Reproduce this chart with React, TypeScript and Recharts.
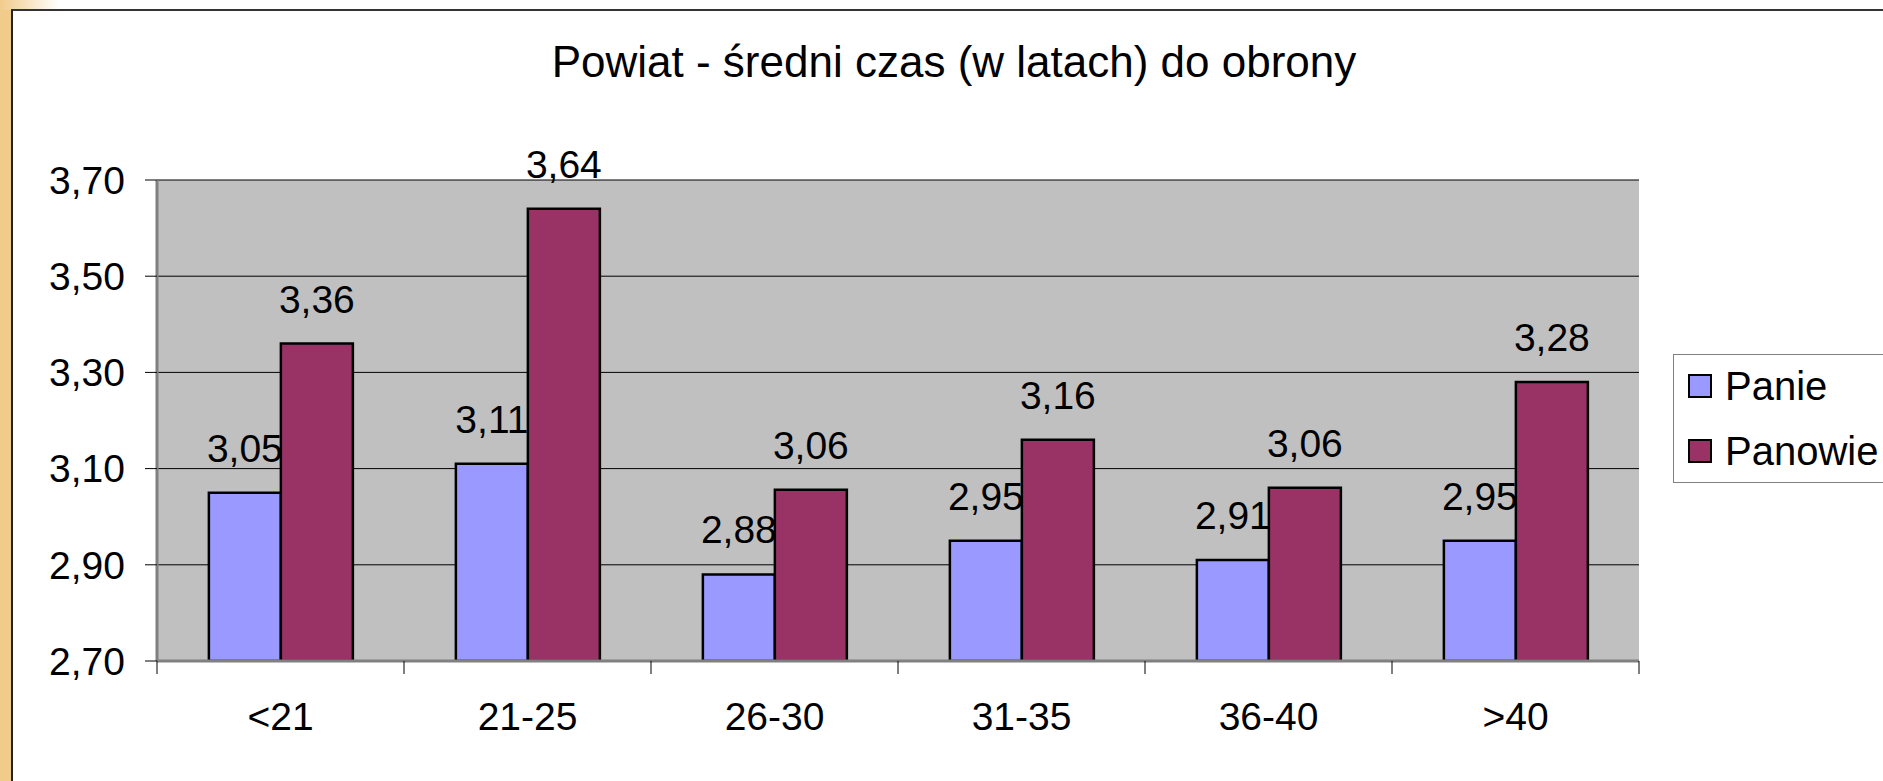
import React from "react";
import {
  BarChart,
  Bar,
  XAxis,
  YAxis,
  CartesianGrid,
  LabelList,
  Legend,
} from "recharts";

const title = "Powiat - średni czas (w latach) do obrony";
const categories = ["<21", "21-25", "26-30", "31-35", "36-40", ">40"];
const panie = [3.05, 3.11, 2.88, 2.95, 2.91, 2.95];
const panowie = [3.36, 3.64, 3.056, 3.16, 3.06, 3.28];
const yTicks = [2.7, 2.9, 3.1, 3.3, 3.5, 3.7];
const seriesNames = ["Panie", "Panowie"];

const FONT = "'Liberation Sans', Arial, sans-serif";
const fmt = (v: number) => v.toFixed(2).replace(".", ",");

const data = categories.map((cat, i) => ({
  cat,
  panie: panie[i],
  panowie: panowie[i],
}));

function XTick(props: any) {
  const { x, y, payload, index, visibleTicksCount } = props;
  const half = payload.offset ?? 0;
  const last = index === visibleTicksCount - 1;
  return (
    <g>
      <line x1={x - half} x2={x - half} y1={y} y2={y + 13} stroke="#000" strokeWidth={1} />
      {last && (
        <line x1={x + half} x2={x + half} y1={y} y2={y + 13} stroke="#000" strokeWidth={1} />
      )}
      <text x={x} y={y + 69} textAnchor="middle" fontSize={39} fontFamily={FONT} fill="#000">
        {payload.value}
      </text>
    </g>
  );
}

function LegendBox(props: any) {
  const items = props.payload || [];
  return (
    <div
      style={{
        width: 210,
        height: 129,
        boxSizing: "border-box",
        border: "1px solid #808080",
        borderRight: "none",
        background: "#fff",
        position: "relative",
        fontFamily: FONT,
      }}
    >
      {items.map((it: any, i: number) => (
        <div
          key={it.value}
          style={{
            position: "absolute",
            left: 14,
            top: 11 + i * 65,
            height: 40,
            display: "flex",
            alignItems: "center",
          }}
        >
          <span
            style={{
              display: "inline-block",
              width: 24,
              height: 24,
              boxSizing: "border-box",
              border: "2px solid #000",
              background: it.color,
            }}
          />
          <span style={{ marginLeft: 13, fontSize: 40, lineHeight: "40px", color: "#000" }}>
            {it.value}
          </span>
        </div>
      ))}
    </div>
  );
}

export default function App() {
  return (
    <div
      style={{
        position: "absolute",
        left: 0,
        top: 0,
        width: 1883,
        height: 781,
        overflow: "hidden",
        background: "#fff",
        fontFamily: FONT,
      }}
    >
      <div style={{ position: "absolute", left: 0, top: 0, width: 11, height: 781, background: "#F1CB8A" }} />
      <div
        style={{
          position: "absolute",
          left: 0,
          top: 0,
          width: 60,
          height: 10,
          background: "linear-gradient(to right, #F1CB8A, #ffffff)",
        }}
      />
      <div
        style={{
          position: "absolute",
          left: 11,
          top: 9,
          width: 1900,
          height: 800,
          borderTop: "2px solid #333",
          borderLeft: "2px solid #222",
        }}
      />
      <div
        style={{
          position: "absolute",
          left: 454,
          top: 40,
          width: 1000,
          textAlign: "center",
          fontSize: 44,
          lineHeight: "44px",
          color: "#000",
        }}
      >
        {title}
      </div>
      <div style={{ position: "absolute", left: 0, top: 0 }}>
        <BarChart
          width={1883}
          height={781}
          data={data}
          margin={{ top: 180, right: 244, bottom: 0, left: 0 }}
          barCategoryGap="21%"
          barGap={0}
        >
          <CartesianGrid vertical={false} stroke="#000" strokeWidth={1} fill="#C0C0C0" fillOpacity={1} />
          <XAxis
            dataKey="cat"
            interval={0}
            height={120}
            tickLine={false}
            tickSize={0}
            tickMargin={0}
            axisLine={{ stroke: "#808080", strokeWidth: 3 }}
            tick={<XTick />}
          />
          <XAxis
            xAxisId="top"
            dataKey="cat"
            orientation="top"
            height={0}
            tick={false}
            tickLine={false}
            axisLine={{ stroke: "#808080", strokeWidth: 3 }}
          />
          <YAxis
            domain={[2.7, 3.7]}
            ticks={yTicks}
            allowDataOverflow
            width={157}
            tickSize={12}
            tickMargin={20}
            tickLine={{ stroke: "#000", strokeWidth: 1 }}
            axisLine={{ stroke: "#808080", strokeWidth: 3 }}
            tickFormatter={fmt}
            tick={{ fill: "#000", fontSize: 39, fontFamily: FONT }}
          />
          <YAxis
            yAxisId="right"
            orientation="right"
            domain={[2.7, 3.7]}
            width={0}
            tick={false}
            tickLine={false}
            axisLine={{ stroke: "#808080", strokeWidth: 3 }}
          />
          <Legend
            layout="vertical"
            align="center"
            verticalAlign="middle"
            wrapperStyle={{ left: 1673, top: 354, width: 210 }}
            content={<LegendBox />}
          />
          <Bar
            dataKey="panie"
            name={seriesNames[0]}
            fill="#9999FF"
            stroke="#000"
            strokeWidth={2.5}
            isAnimationActive={false}
          >
            <LabelList
              dataKey="panie"
              position="top"
              offset={31}
              formatter={(v: any) => fmt(Number(v))}
              style={{ fill: "#000", fontSize: 39, fontFamily: FONT }}
            />
          </Bar>
          <Bar
            dataKey="panowie"
            name={seriesNames[1]}
            fill="#993366"
            stroke="#000"
            strokeWidth={2.5}
            isAnimationActive={false}
          >
            <LabelList
              dataKey="panowie"
              position="top"
              offset={31}
              formatter={(v: any) => fmt(Number(v))}
              style={{ fill: "#000", fontSize: 39, fontFamily: FONT }}
            />
          </Bar>
        </BarChart>
      </div>
    </div>
  );
}
